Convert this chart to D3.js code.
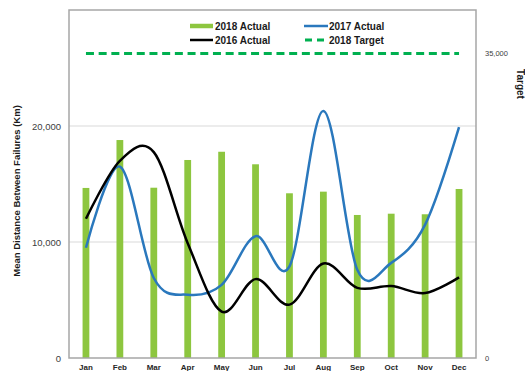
<!DOCTYPE html>
<html>
<head>
<meta charset="utf-8">
<script src="https://cdn.jsdelivr.net/npm/d3@7"></script>
<style>
  html, body { margin: 0; padding: 0; background: #fff; }
  svg { display: block; font-family: "Liberation Sans", Arial, sans-serif; }
</style>
</head>
<body>
<svg id="chart" width="525" height="371"></svg>
<script>
const months = ["Jan","Feb","Mar","Apr","May","Jun","Jul","Aug","Sep","Oct","Nov","Dec"];
const actual2018 = [14660, 18790, 14680, 17070, 17780, 16700, 14200, 14340, 12330, 12440, 12390, 14570];
const actual2017 = [9500, 16500, 6900, 5450, 6300, 10500, 7900, 21300, 7600, 8200, 11500, 19900];
const actual2016 = [12000, 17000, 17750, 9900, 4000, 6800, 4600, 8150, 6050, 6200, 5600, 6950];
const target2018 = [35000, 35000, 35000, 35000, 35000, 35000, 35000, 35000, 35000, 35000, 35000, 35000];
const leftTicks = [0, 10000, 20000];
const rightTicks = [0, 35000];
const gridTicks = [10000, 20000];

const L = 69, R = 476, T = 10, B = 358;
const svg = d3.select("#chart");

const x = d3.scaleBand().domain(months).range([L, R]).paddingInner(0.8).paddingOuter(0.4);
const cx = m => x(m) + x.bandwidth() / 2;
const y = d3.scaleLinear().domain([0, 30000]).range([B, T]);
const y2 = d3.scaleLinear().domain([0, 40000]).range([B, T]);

// gridlines
svg.append("g").selectAll("line").data(gridTicks).join("line")
  .attr("x1", L).attr("x2", R).attr("y1", d => y(d)).attr("y2", d => y(d))
  .attr("stroke", "#d9d9d9").attr("stroke-width", 1);

// bars
svg.append("g").selectAll("rect").data(months).join("rect")
  .attr("x", m => x(m)).attr("width", x.bandwidth())
  .attr("y", (m, i) => y(actual2018[i])).attr("height", (m, i) => B - y(actual2018[i]))
  .attr("fill", "#8dc63f");

const line = d3.line().x(d => cx(d.m)).y(d => d.y).curve(d3.curveCardinal.tension(0));

svg.append("path")
  .attr("d", line(months.map((m, i) => ({m, y: y(actual2017[i])}))))
  .attr("fill", "none").attr("stroke", "#2a78bd").attr("stroke-width", 2.5);

svg.append("path")
  .attr("d", line(months.map((m, i) => ({m, y: y(actual2016[i])}))))
  .attr("fill", "none").attr("stroke", "#000").attr("stroke-width", 2.5);

svg.append("path")
  .attr("d", d3.line().x(d => cx(d.m)).y(d => d.y)(months.map((m, i) => ({m, y: y2(target2018[i])}))))
  .attr("fill", "none").attr("stroke", "#00b050").attr("stroke-width", 3)
  .attr("stroke-dasharray", "8,4.7");

// border
svg.append("rect").attr("x", L).attr("y", T).attr("width", R - L).attr("height", B - T)
  .attr("fill", "none").attr("stroke", "#a6a6a6").attr("stroke-width", 1.5);

// axes
const ax = svg.append("g").attr("transform", `translate(${L},0)`)
  .call(d3.axisLeft(y).tickValues(leftTicks).tickSize(0).tickPadding(8).tickFormat(d3.format(",")));
ax.select(".domain").remove();
ax.selectAll("text").attr("font-size", 9.5).attr("fill", "#404040").attr("font-family", "Liberation Sans, Arial, sans-serif");

const ar = svg.append("g").attr("transform", `translate(${R},0)`)
  .call(d3.axisRight(y2).tickValues(rightTicks).tickSize(0).tickPadding(9).tickFormat(d3.format(",")));
ar.select(".domain").remove();
ar.selectAll("text").attr("font-size", 7.5).attr("fill", "#404040").attr("font-family", "Liberation Sans, Arial, sans-serif");

const ab = svg.append("g").attr("transform", `translate(0,${B})`)
  .call(d3.axisBottom(x).tickSize(0).tickPadding(6));
ab.select(".domain").remove();
ab.selectAll("text").attr("font-size", 8).attr("font-weight", "bold").attr("fill", "#262626")
  .attr("font-family", "Liberation Sans, Arial, sans-serif");

// axis titles
svg.append("text").attr("transform", "translate(20,191) rotate(-90)")
  .attr("text-anchor", "middle").attr("font-size", 9.5).attr("font-weight", "bold").attr("fill", "#1a1a1a")
  .text("Mean Distance Between Failures (Km)");
svg.append("text").attr("transform", "translate(517,84) rotate(90)")
  .attr("text-anchor", "middle").attr("font-size", 10).attr("font-weight", "bold").attr("fill", "#1a1a1a")
  .text("Target");

// legend
const lg = svg.append("g").attr("font-size", 10).attr("font-weight", "bold").attr("fill", "#1a1a1a");
const items = [
  {label: "2018 Actual", x1: 190, x2: 213, tx: 215, y: 26, color: "#8dc63f", w: 4.5, dash: null},
  {label: "2016 Actual", x1: 190, x2: 213, tx: 215, y: 40, color: "#000", w: 2.5, dash: null},
  {label: "2017 Actual", x1: 304, x2: 328, tx: 329, y: 26, color: "#2a78bd", w: 2.5, dash: null},
  {label: "2018 Target", x1: 305, x2: 324, tx: 329, y: 40, color: "#00b050", w: 3, dash: "7,5"}
];
items.forEach(it => {
  lg.append("line").attr("x1", it.x1).attr("x2", it.x2).attr("y1", it.y).attr("y2", it.y)
    .attr("stroke", it.color).attr("stroke-width", it.w).attr("stroke-dasharray", it.dash);
  lg.append("text").attr("x", it.tx).attr("y", it.y).attr("dy", "0.35em").text(it.label);
});
</script>
</body>
</html>
